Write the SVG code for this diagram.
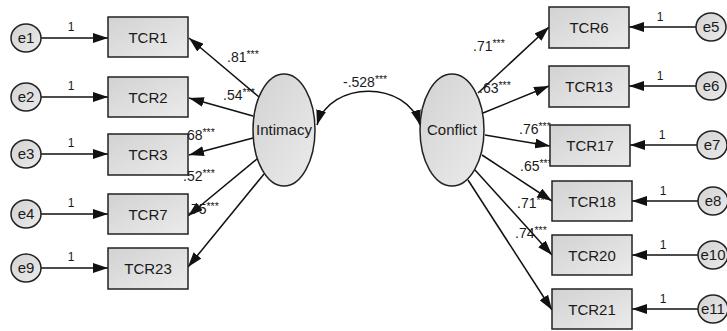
<svg xmlns="http://www.w3.org/2000/svg" width="727" height="331" viewBox="0 0 727 331">
<defs>
<linearGradient id="g" x1="0" y1="0" x2="1" y2="1">
<stop offset="0" stop-color="#d2d2d2"/>
<stop offset="1" stop-color="#ebebeb"/>
</linearGradient>
<marker id="ah" markerUnits="userSpaceOnUse" markerWidth="16" markerHeight="10" refX="15" refY="5" orient="auto-start-reverse">
<path d="M0,0 L15,5 L0,10 z" fill="#111"/>
</marker>
<style>
.box{fill:url(#g);stroke:#222;stroke-width:1.5}
.lat{fill:url(#g);stroke:#222;stroke-width:1.5}
.t{font-family:"Liberation Sans",Arial,sans-serif;font-size:15px;fill:#1a1a1a;text-anchor:middle}
.l{font-family:"Liberation Sans",Arial,sans-serif;font-size:14px;fill:#1a1a1a}
.s{font-size:10.5px}
.one{font-family:"Liberation Sans",Arial,sans-serif;font-size:12px;fill:#1a1a1a;text-anchor:middle}
.c{fill:none;stroke:#111;stroke-width:1.5;marker-end:url(#ah)}
</style>
</defs>
<rect width="727" height="331" fill="#fff"/>
<g id="connectors">
<path class="c" d="M41,38 L108,38"/>
<path class="c" d="M41,97 L108,97"/>
<path class="c" d="M41,154 L108,154"/>
<path class="c" d="M41,214 L108,214"/>
<path class="c" d="M41,268 L108,268"/>
<path class="c" d="M696,27 L629,27"/>
<path class="c" d="M696,86 L629,86"/>
<path class="c" d="M697,145 L630,145"/>
<path class="c" d="M698,201 L632,201"/>
<path class="c" d="M698,255 L632,255"/>
<path class="c" d="M698,309 L632,309"/>
<path class="c" d="M259,97 L189,38"/>
<path class="c" d="M253,116 L189,98"/>
<path class="c" d="M253,138 L189,155"/>
<path class="c" d="M257,159 L188,216"/>
<path class="c" d="M264,174 L188,267"/>
<path class="c" d="M478,93 L549,27"/>
<path class="c" d="M483,113 L549,86"/>
<path class="c" d="M485,135 L550,146"/>
<path class="c" d="M482,155 L552,201"/>
<path class="c" d="M475,170 L552,255"/>
<path class="c" d="M468,180 L552,310"/>
<path class="c" d="M317,125 C330,80 407,80 420,125" marker-start="url(#ah)"/>
<text class="l" x="343" y="87">-.528<tspan class="s" dy="-4">***</tspan></text>
<text class="one" x="71" y="31">1</text>
<text class="one" x="71" y="90">1</text>
<text class="one" x="71" y="147">1</text>
<text class="one" x="71" y="207">1</text>
<text class="one" x="71" y="261">1</text>
<text class="one" x="660" y="21">1</text>
<text class="one" x="660" y="80">1</text>
<text class="one" x="662" y="139">1</text>
<text class="one" x="663" y="195">1</text>
<text class="one" x="663" y="249">1</text>
<text class="one" x="663" y="303">1</text>
<text class="l" x="227" y="62">.81<tspan class="s" dy="-4">***</tspan></text>
<text class="l" x="223" y="100">.54<tspan class="s" dy="-4">***</tspan></text>
<text class="l" x="183" y="140">.68<tspan class="s" dy="-4">***</tspan></text>
<text class="l" x="183" y="181">.52<tspan class="s" dy="-4">***</tspan></text>
<text class="l" x="187" y="214">.75<tspan class="s" dy="-4">***</tspan></text>
<text class="l" x="473" y="51">.71<tspan class="s" dy="-4">***</tspan></text>
<text class="l" x="479" y="93">.63<tspan class="s" dy="-4">***</tspan></text>
<text class="l" x="519" y="134">.76<tspan class="s" dy="-4">***</tspan></text>
<text class="l" x="520" y="171">.65<tspan class="s" dy="-4">***</tspan></text>
<text class="l" x="517" y="208">.71<tspan class="s" dy="-4">***</tspan></text>
<text class="l" x="515" y="238">.74<tspan class="s" dy="-4">***</tspan></text>
</g>
<g id="e1"><ellipse class="lat" cx="26" cy="38" rx="15" ry="14"/><text class="t" x="26" y="43">e1</text></g>
<g id="e2"><ellipse class="lat" cx="26" cy="97" rx="15" ry="14"/><text class="t" x="26" y="102">e2</text></g>
<g id="e3"><ellipse class="lat" cx="26" cy="154" rx="15" ry="14"/><text class="t" x="26" y="159">e3</text></g>
<g id="e4"><ellipse class="lat" cx="26" cy="214" rx="15" ry="14"/><text class="t" x="26" y="219">e4</text></g>
<g id="e9"><ellipse class="lat" cx="26" cy="268" rx="15" ry="14"/><text class="t" x="26" y="273">e9</text></g>
<g id="TCR1"><rect class="box" x="108" y="17" width="80" height="40"/><text class="t" x="148" y="43">TCR1</text></g>
<g id="TCR2"><rect class="box" x="108" y="77" width="80" height="40"/><text class="t" x="148" y="103">TCR2</text></g>
<g id="TCR3"><rect class="box" x="108" y="134" width="80" height="41"/><text class="t" x="148" y="160">TCR3</text></g>
<g id="TCR7"><rect class="box" x="108" y="194" width="80" height="40"/><text class="t" x="148" y="220">TCR7</text></g>
<g id="TCR23"><rect class="box" x="108" y="248" width="80" height="41"/><text class="t" x="148" y="274">TCR23</text></g>
<g id="Intimacy"><ellipse class="lat" cx="284" cy="130" rx="31" ry="56"/><text class="t" x="284" y="135">Intimacy</text></g>
<g id="Conflict"><ellipse class="lat" cx="452" cy="130" rx="32" ry="56"/><text class="t" x="452" y="135">Conflict</text></g>
<g id="TCR6"><rect class="box" x="549" y="7" width="80" height="41"/><text class="t" x="589" y="33">TCR6</text></g>
<g id="TCR13"><rect class="box" x="549" y="66" width="80" height="41"/><text class="t" x="589" y="92">TCR13</text></g>
<g id="TCR17"><rect class="box" x="550" y="125" width="80" height="41"/><text class="t" x="590" y="151">TCR17</text></g>
<g id="TCR18"><rect class="box" x="552" y="181" width="80" height="40"/><text class="t" x="592" y="207">TCR18</text></g>
<g id="TCR20"><rect class="box" x="552" y="235" width="80" height="40"/><text class="t" x="592" y="261">TCR20</text></g>
<g id="TCR21"><rect class="box" x="552" y="289" width="80" height="40"/><text class="t" x="592" y="315">TCR21</text></g>
<g id="e5"><ellipse class="lat" cx="711" cy="27" rx="15" ry="14"/><text class="t" x="711" y="32">e5</text></g>
<g id="e6"><ellipse class="lat" cx="711" cy="86" rx="15" ry="14"/><text class="t" x="711" y="91">e6</text></g>
<g id="e7"><ellipse class="lat" cx="712" cy="145" rx="15" ry="14"/><text class="t" x="712" y="150">e7</text></g>
<g id="e8"><ellipse class="lat" cx="713" cy="201" rx="15" ry="14"/><text class="t" x="713" y="206">e8</text></g>
<g id="e10"><ellipse class="lat" cx="713" cy="255" rx="15" ry="14"/><text class="t" x="713" y="260">e10</text></g>
<g id="e11"><ellipse class="lat" cx="713" cy="309" rx="15" ry="14"/><text class="t" x="713" y="314">e11</text></g>
</svg>
